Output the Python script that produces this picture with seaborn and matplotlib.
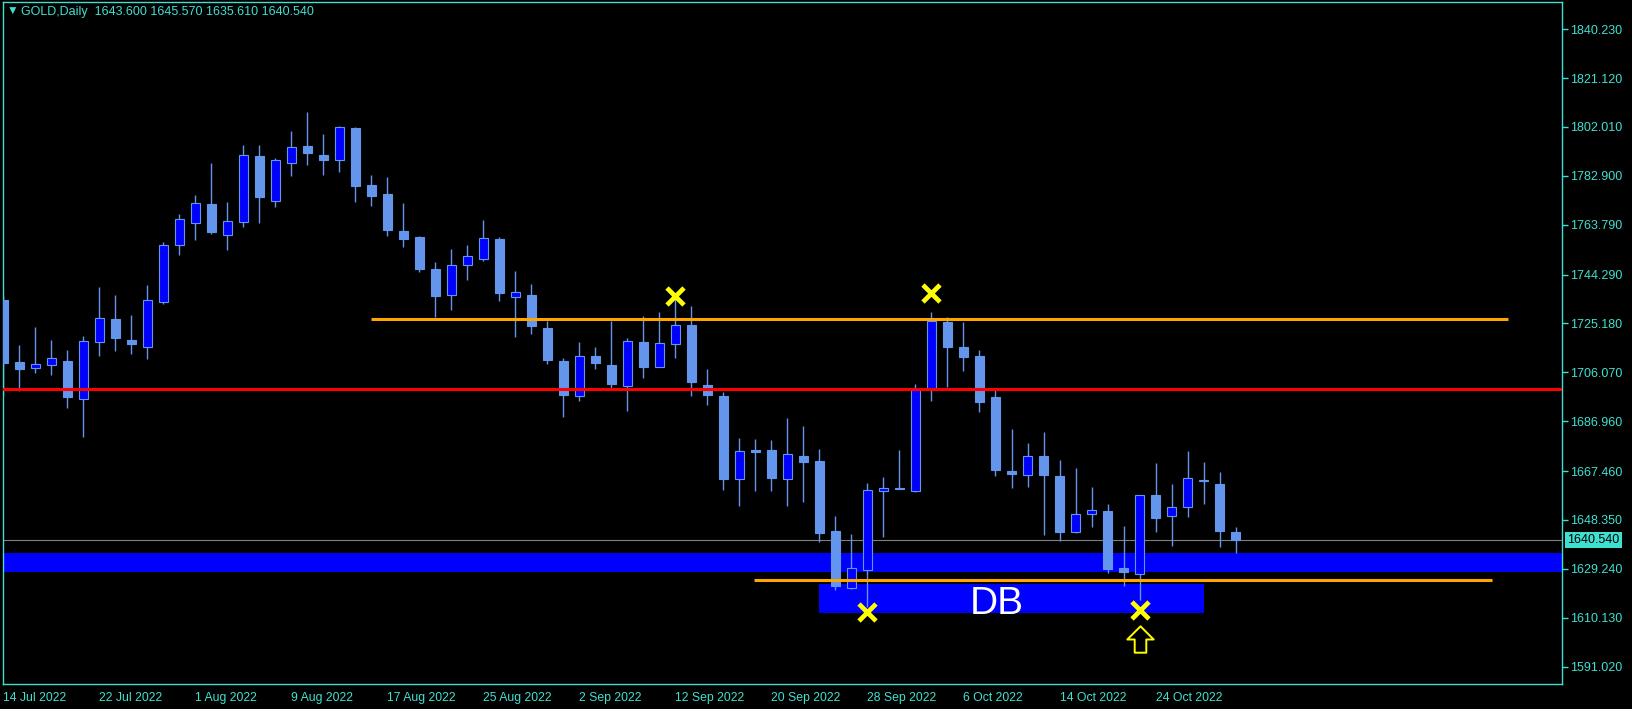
import numpy as np
import pandas as pd
import matplotlib
matplotlib.use("Agg")
import matplotlib.pyplot as plt
import matplotlib.transforms as mtransforms
from matplotlib.path import Path
import seaborn as sns

# GOLD daily candles, 14 Jul 2022 .. 31 Oct 2022
opens = [1734.4, 1710.1, 1707.6, 1708.8, 1710.5, 1695.5, 1717.8, 1726.9, 1718.7, 1716.1,
         1733.4, 1755.7, 1764.3, 1771.9, 1759.6, 1764.7, 1790.7, 1772.9, 1787.8, 1794.6,
         1791.0, 1789.2, 1801.6, 1779.3, 1775.8, 1761.3, 1759.0, 1746.5, 1736.2, 1747.9,
         1750.5, 1758.2, 1735.4, 1736.3, 1723.4, 1710.5, 1696.7, 1712.5, 1708.9, 1700.9,
         1717.9, 1708.3, 1717.0, 1724.4, 1701.0, 1696.8, 1664.5, 1675.6, 1675.7, 1664.5,
         1673.3, 1671.4, 1644.0, 1621.6, 1628.7, 1659.5, 1660.8, 1659.5, 1699.0, 1725.8,
         1716.0, 1712.5, 1696.4, 1667.5, 1665.8, 1673.2, 1665.4, 1643.8, 1650.6, 1651.7,
         1629.4, 1627.1, 1658.0, 1650.0, 1653.3, 1664.0, 1662.4, 1643.600]
highs = [1736.3, 1716.8, 1723.8, 1718.7, 1714.8, 1720.3, 1739.4, 1736.3, 1728.5, 1740.2,
         1757.0, 1768.0, 1775.4, 1787.9, 1772.7, 1794.9, 1794.9, 1789.9, 1800.4, 1807.9,
         1799.3, 1802.4, 1802.0, 1783.2, 1782.4, 1772.3, 1759.4, 1749.2, 1754.3, 1755.9,
         1765.6, 1759.0, 1745.7, 1740.6, 1726.3, 1711.5, 1717.8, 1716.0, 1726.3, 1719.4,
         1728.1, 1729.7, 1734.6, 1732.0, 1707.4, 1698.4, 1680.4, 1680.0, 1679.6, 1688.2,
         1685.1, 1676.1, 1649.9, 1642.9, 1662.8, 1665.1, 1675.7, 1701.5, 1729.7, 1727.7,
         1725.8, 1714.8, 1699.8, 1683.9, 1678.4, 1682.7, 1671.8, 1668.7, 1661.2, 1654.5,
         1645.9, 1658.2, 1670.6, 1662.4, 1675.3, 1671.0, 1667.1, 1645.570]
lows = [1697.2, 1698.9, 1705.9, 1705.2, 1692.3, 1680.9, 1712.6, 1714.5, 1713.4, 1711.4,
        1732.9, 1752.1, 1757.9, 1760.3, 1754.0, 1763.0, 1764.6, 1770.6, 1783.0, 1787.3,
        1783.4, 1784.5, 1772.8, 1771.2, 1759.5, 1755.2, 1745.4, 1727.6, 1730.6, 1742.3,
        1749.7, 1734.1, 1720.0, 1721.2, 1709.5, 1688.7, 1695.0, 1707.5, 1699.7, 1691.1,
        1704.0, 1708.0, 1711.8, 1696.9, 1693.4, 1660.2, 1653.9, 1659.8, 1659.8, 1653.9,
        1655.5, 1639.9, 1621.0, 1621.4, 1614.5, 1641.6, 1660.5, 1659.3, 1695.0, 1700.5,
        1706.7, 1690.7, 1665.7, 1661.0, 1661.4, 1642.6, 1640.3, 1643.4, 1645.7, 1627.7,
        1622.7, 1617.1, 1643.8, 1638.3, 1649.6, 1654.7, 1637.9, 1635.610]
closes = [1709.8, 1707.5, 1709.2, 1711.5, 1696.6, 1718.2, 1727.2, 1719.6, 1717.3, 1734.2,
          1755.7, 1765.9, 1772.1, 1761.1, 1765.1, 1790.9, 1774.7, 1788.9, 1794.1, 1792.0,
          1789.2, 1801.9, 1779.1, 1775.1, 1761.9, 1758.3, 1746.6, 1736.0, 1747.9, 1751.4,
          1758.5, 1737.2, 1737.3, 1724.3, 1711.0, 1697.3, 1712.3, 1709.8, 1701.6, 1718.2,
          1708.3, 1717.4, 1724.4, 1702.4, 1697.3, 1664.5, 1675.2, 1675.0, 1664.9, 1674.0,
          1671.2, 1643.4, 1622.7, 1629.4, 1659.9, 1660.7, 1660.6, 1699.8, 1726.3, 1716.1,
          1712.2, 1694.6, 1668.0, 1666.2, 1673.2, 1666.1, 1643.8, 1650.6, 1652.1, 1629.3,
          1628.1, 1658.0, 1649.2, 1653.3, 1664.6, 1663.5, 1644.2, 1640.540]

dates = pd.bdate_range("2022-07-14", "2022-10-31")

# price axis labels
ytick_vals = [1840.230, 1821.120, 1802.010, 1782.900, 1763.790, 1744.290, 1725.180,
              1706.070, 1686.960, 1667.460, 1648.350, 1629.240, 1610.130, 1591.020]

# drawn objects
resistance = 1726.8          # upper orange line
support = 1624.7             # lower orange line
red_level = 1699.4
bid = 1640.540
band_lo, band_hi = 1628.1, 1635.3
db_lo, db_hi = 1612.1, 1623.3
cross_bars = [42, 58, 54, 71]
cross_prices = [1736.0, 1737.0, 1612.5, 1613.1]

df = pd.DataFrame({"date": dates, "open": opens, "high": highs,
                   "low": lows, "close": closes})
df["x"] = np.arange(len(df))
df["bull"] = df["close"] > df["open"]

sns.set_theme(style="dark", rc={"axes.facecolor": "black",
                                "figure.facecolor": "black",
                                "axes.grid": False})
plt.rcParams["font.family"] = ["Liberation Sans", "DejaVu Sans"]

TEAL = "#40E0D0"
LIGHT = "#6495ED"
BLUE = "#0000FF"

W, H = 1633, 709
fig = plt.figure(figsize=(W / 100, H / 100), dpi=100)
ax = fig.add_axes([3 / W, 25 / H, 1559 / W, 682 / H])
ax.set_facecolor("black")

# background objects
ax.axhspan(band_lo, band_hi, color=BLUE, lw=0, zorder=0.5)
ax.fill_between([51.0, 75.0], db_lo, db_hi, color=BLUE, lw=0, zorder=0.5)
ax.axhline(bid, color="#808080", lw=0.8, zorder=0.8)

# candles
ax.vlines(df["x"], df["low"], df["high"], color=LIGHT, lw=1.0, zorder=2)
body_lo = df[["open", "close"]].min(axis=1)
body_h = (df["close"] - df["open"]).abs().clip(lower=0.35)
fills = np.where(df["bull"], BLUE, LIGHT)
ax.bar(df["x"], body_h, bottom=body_lo, width=0.6, color=fills,
       edgecolor=LIGHT, linewidth=0.8, zorder=3)

# lines on top
ax.axhline(red_level, color="#FF0000", lw=2.2, zorder=4)
ax.hlines(resistance, 22.97, 94.0, color="#FFA500", lw=2.2, zorder=4)
ax.hlines(support, 46.9, 93.0, color="#FFA500", lw=2.2, zorder=4)

ax.text(62.05, 1615.6, "DB", color="white", fontsize=28, ha="center",
        va="center", zorder=5)

sns.scatterplot(x=cross_bars, y=cross_prices, marker="x", s=150, linewidth=3.4,
                color="#FFFF00", ax=ax, zorder=6)

arrow = Path([(0, 0.5), (0.5, 0.0), (0.22, 0.0), (0.22, -0.5), (-0.22, -0.5),
              (-0.22, 0.0), (-0.5, 0.0), (0, 0.5)], closed=True)
ax.plot([71], [1601.8], marker=arrow, ms=19, mfc="black", mec="#FFFF00",
        mew=1.4, ls="none", zorder=6)

# axes
ax.set_xlim(-0.02, 97.4)
ax.set_ylim(1584.21, 1850.86)
ax.yaxis.tick_right()
ax.set_yticks(ytick_vals)
ax.set_yticklabels([f"{v:.3f}" for v in ytick_vals])
xt = list(range(0, len(df), 6))
ax.set_xticks(xt)
ax.set_xticklabels([f"{dates[i].day} {dates[i].strftime('%b %Y')}" for i in xt])
plt.setp(ax.get_xticklabels(), ha="left")
ax.tick_params(axis="both", colors=TEAL, length=4, width=1, direction="out",
               labelsize=9, pad=2)
ax.tick_params(axis="x", labelsize=8.8)
ax.tick_params(axis="y", labelright=True, labelleft=False, right=True, left=False)
for sp in ax.spines.values():
    sp.set_color(TEAL)
    sp.set_linewidth(1)
    sp.set_visible(True)
ax.set_xlabel("")
ax.set_ylabel("")

# current price tag
trans = mtransforms.blended_transform_factory(ax.transAxes, ax.transData)
ax.text(1.0035, bid, f"{bid:.3f}", transform=trans, ha="left", va="center",
        fontsize=9, color="black", zorder=10, clip_on=False,
        bbox=dict(facecolor=TEAL, edgecolor="none", pad=1.6))

# header
fig.text(7 / W, 1 - 12 / H, "\u25bc", color=TEAL, fontsize=8.5, va="center")
fig.text(21 / W, 1 - 12.5 / H,
         f"GOLD,Daily  {opens[-1]:.3f} {highs[-1]:.3f} {lows[-1]:.3f} {closes[-1]:.3f}",
         color=TEAL, fontsize=9, va="center")

fig.savefig("out.png", dpi=100, facecolor="black")
